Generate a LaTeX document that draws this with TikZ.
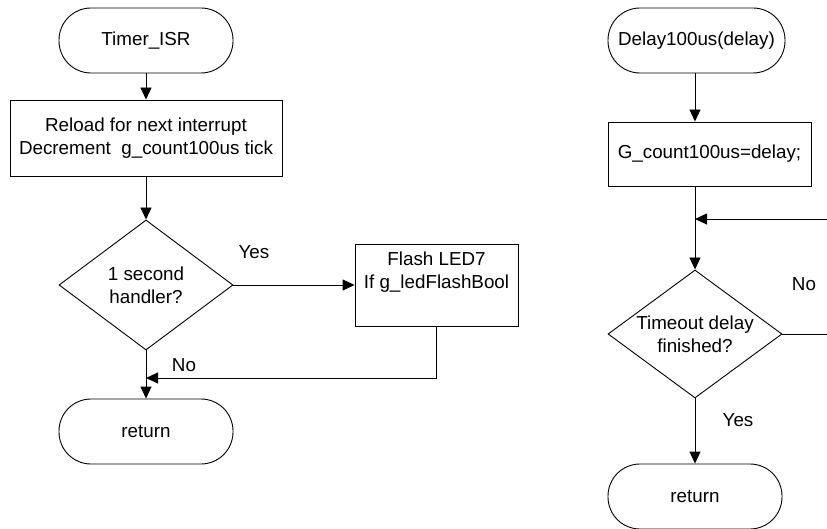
\documentclass[tikz,border=0pt]{standalone}
\usepackage{fontspec}
\setmainfont{Liberation Sans}
\usetikzlibrary{arrows.meta,shapes.geometric}
\begin{document}
\begin{tikzpicture}[x=1pt,y=-1pt,
  font=\fontsize{18.8}{23}\selectfont,
  line width=0.9pt,
  term/.style={draw,rounded corners=32pt,minimum width=174pt,minimum height=65pt,inner sep=0pt},
  procbox/.style={draw,minimum width=#1,inner sep=0pt,align=center},
  decis/.style={draw,diamond,minimum width=174pt,inner sep=0pt},
  flow/.style={-{Triangle[length=12pt,width=11pt]}},
  lbl/.style={inner sep=0pt}]
\useasboundingbox (0,0) rectangle (827,529);
\clip (0,0) rectangle (827,529);
% left flowchart
\node[term] (t1) at (146,40.5) {Timer\_ISR};
\node[procbox=272pt,minimum height=76pt] (b1) at (146,138) {Reload for next interrupt\\Decrement\ \ g\_count100us tick};
\node[decis,minimum height=130pt,label={[align=center,inner sep=0pt]center:1 second\\handler?}] (d1) at (146,285) {};
\node[procbox=163pt,minimum height=82pt] (f1) at (436.5,285) {Flash LED7\\If g\_ledFlashBool\\\strut};
\node[term] (r1) at (146,431.5) {return};
\coordinate (m1) at (146,378);
\draw[flow] (t1) -- (b1);
\draw[flow] (b1) -- (d1);
\draw[flow] (d1.east) -- (f1.west);
\draw[flow] (d1.south) -- (r1.north);
\draw[flow] (f1.south) |- (m1);
\node[lbl] (yes1) at (254,252) {Yes};
\node[lbl] (no1) at (184,365) {No};
% right flowchart
\node[term,minimum width=177pt] (t2) at (696.5,40.5) {Delay100us(delay)};
\node[procbox=203pt,minimum height=64pt] (b2) at (709.5,154) {G\_count100us=delay;};
\node[decis,minimum height=128pt,label={[align=center,inner sep=0pt]center:Timeout delay\\finished?}] (d2) at (695,334) {};
\node[term] (r2) at (695,496.5) {return};
\coordinate (j2) at (695,219);
\coordinate (loopR) at (860,219);
\draw[flow] (t2.south -| d2) -- (b2.north -| d2);
\draw[flow] (b2.south -| d2) -- (d2.north);
\draw[flow] (d2.east) -- (d2.east -| loopR) -- (loopR) -- (j2);
\draw[flow] (d2.south) -- (r2.north);
\node[lbl] (no2) at (804,284) {No};
\node[lbl] (yes2) at (738,420) {Yes};
\end{tikzpicture}
\end{document}
